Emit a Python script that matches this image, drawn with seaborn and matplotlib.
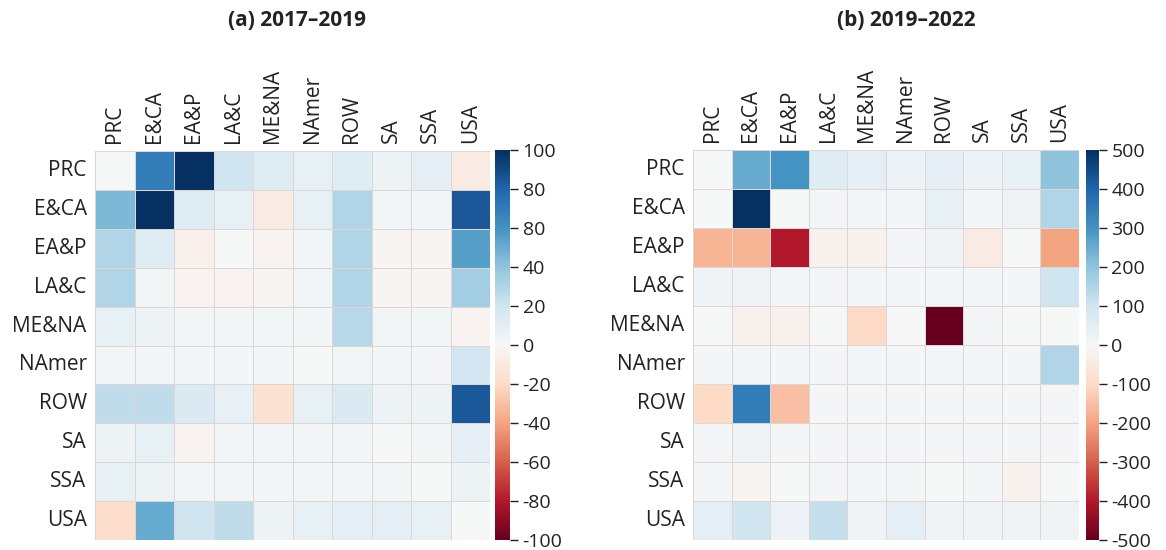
import numpy as np
import pandas as pd
import matplotlib
matplotlib.use("Agg")
import matplotlib.pyplot as plt
import seaborn as sns

regions = ["PRC", "E&CA", "EA&P", "LA&C", "ME&NA", "NAmer", "ROW", "SA", "SSA", "USA"]

vals_a = [
    [0, 70, 100, 20, 12, 8, 12, 5, 10, -8],
    [45, 100, 12, 8, -8, 8, 30, 3, 3, 85],
    [30, 12, -5, 0, -3, 3, 30, -2, -2, 55],
    [30, 3, -3, -3, -2, 3, 30, -2, -2, 35],
    [8, 5, 3, 3, 3, 3, 28, 3, 3, -3],
    [3, 3, 2, 2, 2, 0, 3, 2, 2, 18],
    [25, 25, 15, 8, -15, 8, 15, 5, 5, 85],
    [5, 8, -3, 3, 3, 3, 3, 0, 3, 10],
    [8, 5, 3, 3, 3, 3, 3, 3, 0, 5],
    [-18, 50, 20, 25, 5, 8, 10, 10, 8, 0],
]

vals_b = [
    [0, 250, 300, 60, 50, 30, 50, 30, 40, 200],
    [0, 500, 0, 10, 10, 10, 40, 10, 20, 150],
    [-170, -170, -400, -20, -20, 10, 20, -40, 0, -200],
    [20, 20, 10, 10, 10, 10, 10, 10, 10, 100],
    [0, -20, -20, 0, -100, 0, -500, 10, 0, 0],
    [10, 10, 10, 10, 10, 10, 10, 10, 10, 150],
    [-100, 350, -150, 10, 10, 10, 10, 10, 10, 10],
    [10, 20, 10, 10, 10, 10, 10, 10, 10, 10],
    [10, -10, 0, 10, 10, 10, 0, 10, -20, 0],
    [50, 100, 30, 120, 20, 50, 20, 20, 20, 20],
]

titles = ["(a) 2017–2019", "(b) 2019–2022"]
limits = [100, 500]
ticks_a = [100, 80, 60, 40, 20, 0, -20, -40, -60, -80, -100]
ticklabels_a = ["100", "80", "80", "40", "20", "0", "-20", "-40", "-60", "-80", "-100"]
ticks_b = [500, 400, 300, 200, 100, 0, -100, -200, -300, -400, -500]
ticklabels_b = ["500", "400", "300", "200", "100", "0", "-100", "-200", "-300", "-400", "-500"]

sns.set_theme(style="white")
plt.rcParams["font.family"] = ["Open Sans", "DejaVu Sans"]

fig = plt.figure(figsize=(11.66, 5.5), dpi=100)

ax_a = fig.add_axes([95 / 1166, 10 / 550, 395 / 1166, 389 / 550])
cax_a = fig.add_axes([495 / 1166, 10 / 550, 15 / 1166, 390 / 550])
ax_b = fig.add_axes([693 / 1166, 10 / 550, 386 / 1166, 390 / 550])
cax_b = fig.add_axes([1086 / 1166, 10 / 550, 13 / 1166, 390 / 550])

for ax, cax, vals, lim, ticks, tlabels in [
    (ax_a, cax_a, vals_a, limits[0], ticks_a, ticklabels_a),
    (ax_b, cax_b, vals_b, limits[1], ticks_b, ticklabels_b),
]:
    df = pd.DataFrame(vals, index=regions, columns=regions)
    sns.heatmap(df, ax=ax, cbar_ax=cax, cmap="RdBu", vmin=-lim, vmax=lim,
                linewidths=0.6, linecolor="#ddd6d6", square=False)
    ax.xaxis.tick_top()
    ax.set_xticklabels(regions, rotation=90, fontsize=15, color="#222222")
    ax.set_yticklabels(regions, rotation=0, fontsize=15, color="#222222")
    ax.tick_params(axis="x", length=0, pad=6)
    ax.tick_params(axis="y", length=0, pad=6)
    cax.set_yticks(ticks)
    cax.set_yticklabels(tlabels)
    cax.tick_params(axis="y", labelsize=14, length=6, width=1, colors="#222222",
                    direction="out", left=False, right=True, pad=3)

fig.text(297 / 1166, 0.962, titles[0], ha="center", va="center", fontsize=15,
         fontweight="bold", color="#222222")
fig.text(906 / 1166, 0.962, titles[1], ha="center", va="center", fontsize=15,
         fontweight="bold", color="#222222")

fig.savefig("out.png", dpi=100)
